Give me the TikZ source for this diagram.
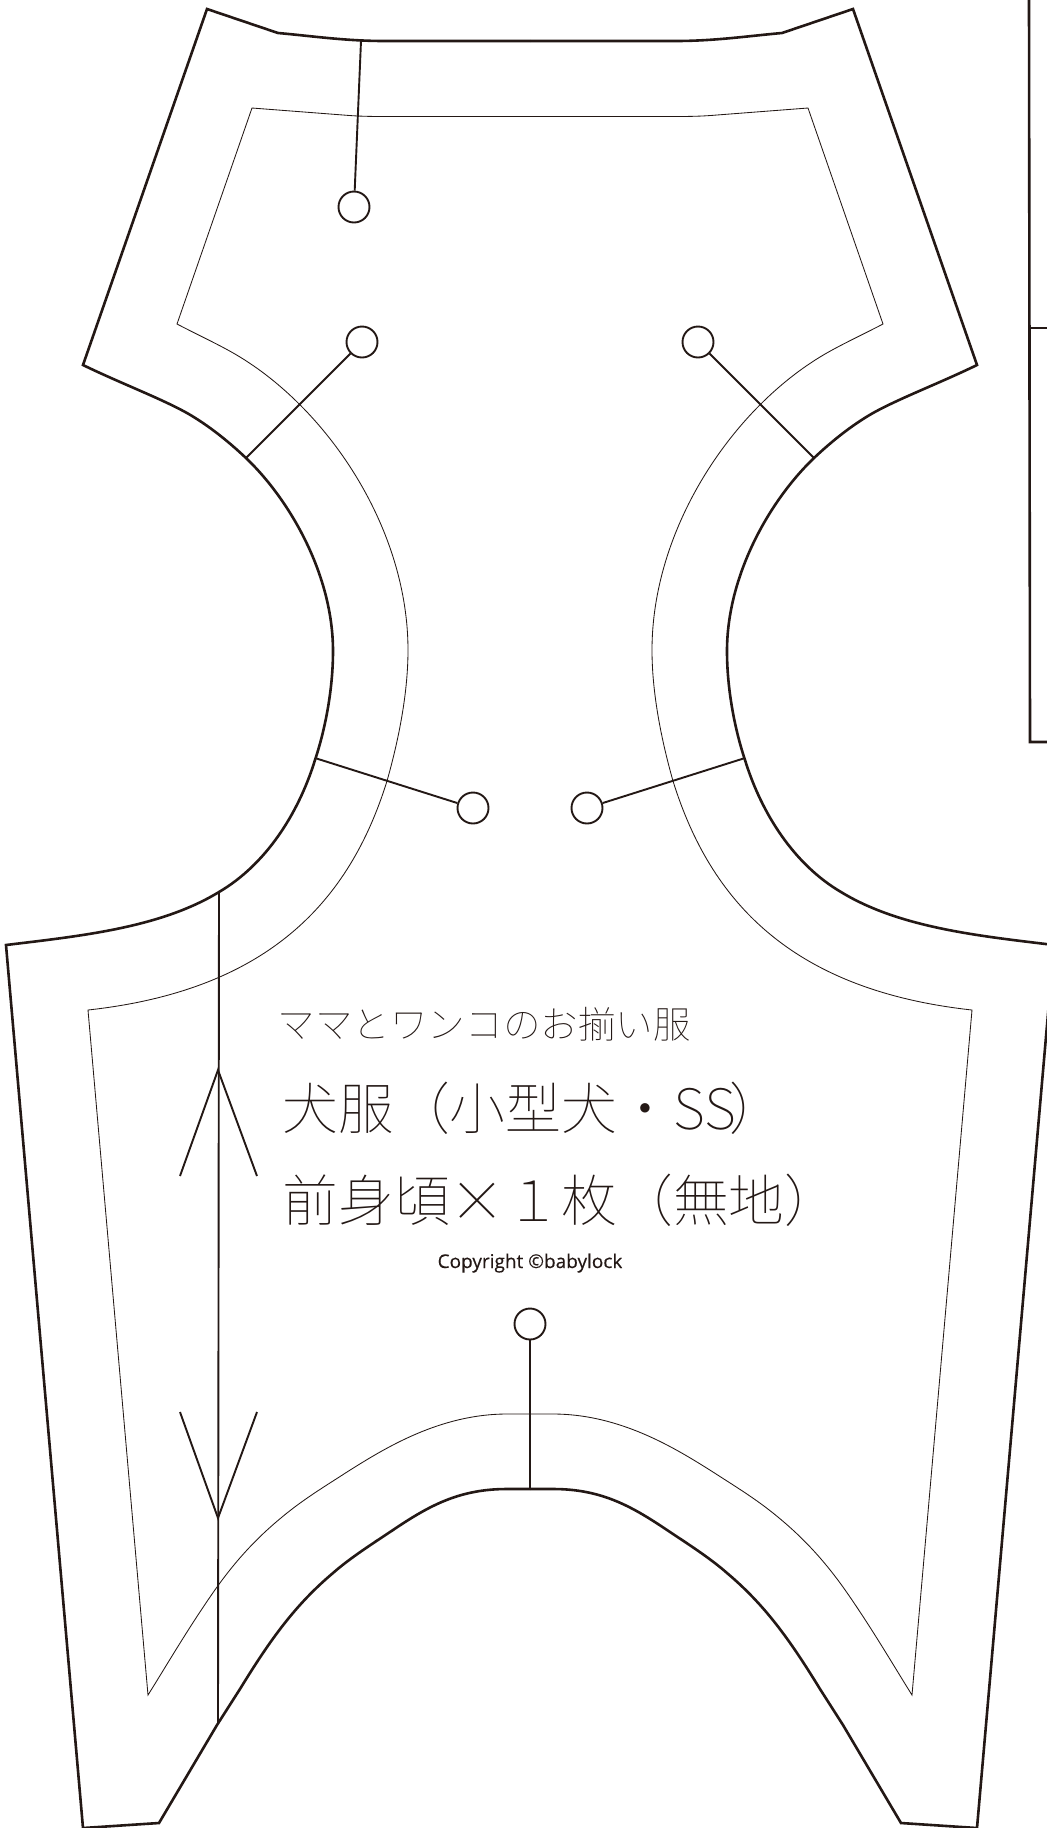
\documentclass[tikz,border=0pt]{standalone}
\usepackage{fontspec}
\IfFontExistsTF{Noto Sans CJK JP Thin}{\newfontfamily\jpf{Noto Sans CJK JP Thin}}{\IfFontExistsTF{Noto Sans CJK JP Light}{\newfontfamily\jpf{Noto Sans CJK JP Light}}{\newfontfamily\jpf{Noto Sans CJK JP}}}
\newfontfamily\latf[FakeBold=0.35]{Open Sans}
\newfontfamily\latb[FakeBold=1.2]{Open Sans}
\definecolor{ink}{HTML}{231815}
\tikzset{
  outerline/.style={draw=ink,line width=1.3pt,line join=miter},
  seam/.style={draw=ink,line width=0.42pt},
  lead/.style={draw=ink,line width=0.95pt},
  pin/.style={circle,draw=ink,line width=0.95pt,minimum size=15.5pt,inner sep=0pt,fill=white},
  jp/.style={anchor=base west,inner sep=0pt,text=ink}
}
\def\outerhalf{(530,41) -- (385,41) .. controls (345,41) and (312,36) .. (278,33) -- (207,9) -- (83,365)
 .. controls (120,383) and (160,398) .. (187,413) .. controls (208,425) and (228,441) .. (246,458)
 .. controls (290,500) and (333,575) .. (333,651) .. controls (333,690) and (325,730) .. (315,760)
 .. controls (298,815) and (265,865) .. (219,892) .. controls (160,928) and (80,936) .. (6,945)
 -- (83,1828) -- (159,1823) -- (217,1725) -- (240,1689) .. controls (270,1640) and (295,1605) .. (333,1573)
 .. controls (350,1558) and (372,1544) .. (393,1530) .. controls (430,1505) and (460,1489) .. (507,1489) -- (530,1489)}
\def\seamhalf{(530,116.5) -- (385,116.5) .. controls (365,116.5) and (355,116) .. (343,115) -- (252,108) -- (177,324)
 .. controls (200,336) and (222,346) .. (240,357) .. controls (330,412) and (408,530) .. (408,650)
 .. controls (408,690) and (400,735) .. (387,781) .. controls (350,900) and (270,990) .. (88,1010)
 -- (148,1695) .. controls (165,1668) and (190,1625) .. (217,1587) .. controls (240,1555) and (262,1533) .. (287,1513)
 .. controls (307,1497) and (327,1485) .. (347,1472) .. controls (385,1448) and (440,1414) .. (507,1414) -- (530,1414)}
\begin{document}
\begin{tikzpicture}[x=0.5pt,y=-0.5pt]
\useasboundingbox (0,0) rectangle (1047,1828);
\clip (0,0) rectangle (1047,1828);
\fill[white] (0,0) rectangle (1047,1828);
% body outlines
\draw[seam] \seamhalf;
\draw[outerline] \outerhalf;
\begin{scope}[shift={(1060,0)},xscale=-1]
\draw[seam] \seamhalf;
\draw[outerline] \outerhalf;
\end{scope}
% neighbouring piece
\draw[outerline] (1029,-5) -- (1030,742) -- (1052,742);
\draw[seam,line width=0.6pt] (1030,328) -- (1052,328);
% pins
\node[pin] (p1) at (354,207) {};
\node[pin] (p2) at (362,342) {};
\node[pin] (p3) at (698,342) {};
\node[pin] (p4) at (473,808) {};
\node[pin] (p5) at (587,808) {};
\node[pin] (p6) at (530,1324) {};
\coordinate (e1) at (361,41);
\coordinate (e2) at (246,458);
\coordinate (e3) at (814,458);
\coordinate (e4) at (315,758);
\coordinate (e5) at (745,758);
\coordinate (e6) at (530,1489);
\draw[lead] (p1) -- (e1);
\draw[lead] (p2) -- (e2);
\draw[lead] (p3) -- (e3);
\draw[lead] (p4) -- (e4);
\draw[lead] (p5) -- (e5);
\draw[lead,line width=1.1pt] (p6) -- (e6);
% grain line
\coordinate (g1) at (219,892);
\coordinate (g2) at (218,1724);
\coordinate (g3) at (218,1070);
\coordinate (g4) at (180,1176);
\coordinate (g5) at (257,1176);
\coordinate (g6) at (218,1518);
\coordinate (g7) at (180,1412);
\coordinate (g8) at (257,1412);
\draw[lead] (g1) -- (g2);
\draw[lead] (g4) -- (g3) -- (g5);
\draw[lead] (g7) -- (g6) -- (g8);
% labels
\node[jp] (t1) at (277,1038) {\fontsize{18.8pt}{18.8pt}\jpf ママとワンコのお揃い服};
\node[jp] (t2) at (282,1129) {\fontsize{27.9pt}{27.9pt}\jpf 犬服（小型犬・SS\kern-3pt）};
\node[jp] (t3) at (282,1221) {\fontsize{27.9pt}{27.9pt}\jpf 前身頃×１枚（無地）};
\node[anchor=base,inner sep=0pt,text=ink] (t4) at (530,1268) {\fontsize{9.5pt}{9.5pt}\latf Copyright ©baby{\latb l}ock};
\end{tikzpicture}
\end{document}
